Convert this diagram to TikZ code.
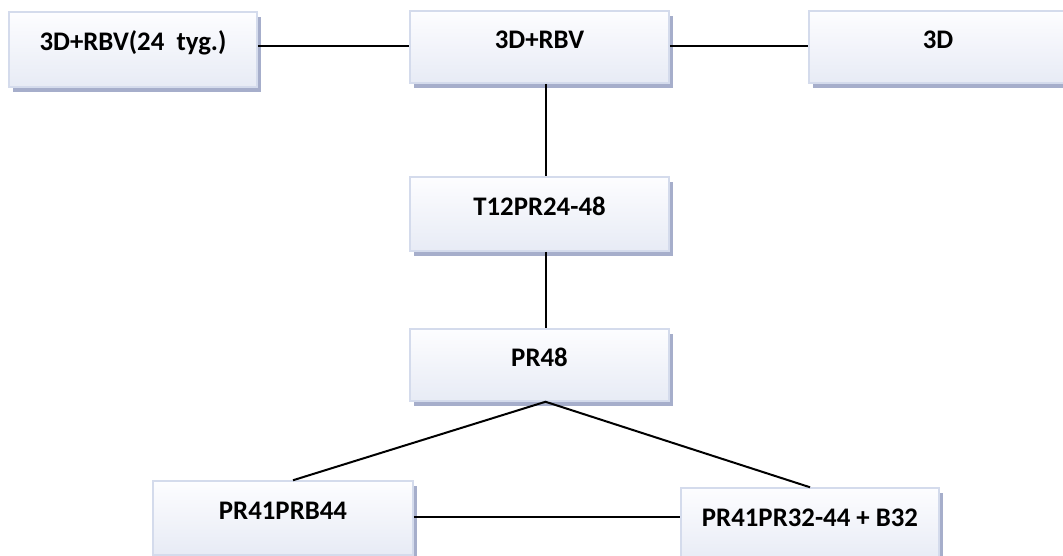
\documentclass[tikz,border=0pt]{standalone}
\usepackage{fontspec}
\setmainfont{Carlito}
\usetikzlibrary{calc,shadows}
\definecolor{boxtop}{HTML}{FDFDFF}
\definecolor{boxbot}{HTML}{E7EBF5}
\definecolor{boxrim}{HTML}{D4DBEC}
\definecolor{boxshade}{HTML}{A6AECB}
\tikzset{
  stage/.style={rectangle, top color=boxtop, bottom color=boxbot, draw=boxrim,
    line width=1.5pt, minimum width=258pt, minimum height=72pt, inner sep=0pt,
    font=\fontsize{26.8}{30}\selectfont\bfseries, text height=18pt, text depth=16pt,
    general shadow={fill=boxshade, shadow xshift=4pt, shadow yshift=-5pt}},
  link/.style={line width=2pt, black}
}
\begin{document}
\begin{tikzpicture}[x=1pt,y=-1pt]
\useasboundingbox (0,0) rectangle (1063,555);
\clip (0,0) rectangle (1063,555);
% top row
\node[stage, minimum width=248pt, minimum height=75pt] (b1) at (133,49.5) {3D+RBV(24~ tyg.)};
\node[stage, minimum width=259pt] (b2) at (539.5,47) {3D+RBV};
\node[stage] (b3) at (938,47) {3D};
% central column
\node[stage, minimum width=259pt, minimum height=74pt] (t12) at (539.5,214) {T12PR24-48};
\node[stage, minimum width=259pt] (pr48) at (539.5,365) {PR48};
% bottom row
\node[stage, minimum width=260pt, minimum height=74pt] (pl) at (283,518) {PR41PRB44};
\node[stage, minimum height=74pt] (pr) at (810,525) {PR41PR32-44 + B32};
% connectors
\draw[link] (b2.mid west -| b1.east) -- (b2.mid west);
\draw[link] (b2.mid east) -- (b3.mid west);
\draw[link] ($(b2.south)+(6,0)$) -- ($(t12.north)+(6,0)$);
\draw[link] ($(t12.south)+(6,0)$) -- ($(pr48.north)+(6,0)$);
\draw[link] ($(pl.north)+(10,0)$) -- ($(pr48.south)+(6,0)$) -- (pr.north);
\draw[link] (pl.mid east) -- (pl.mid east -| pr.west);
\end{tikzpicture}
\end{document}
